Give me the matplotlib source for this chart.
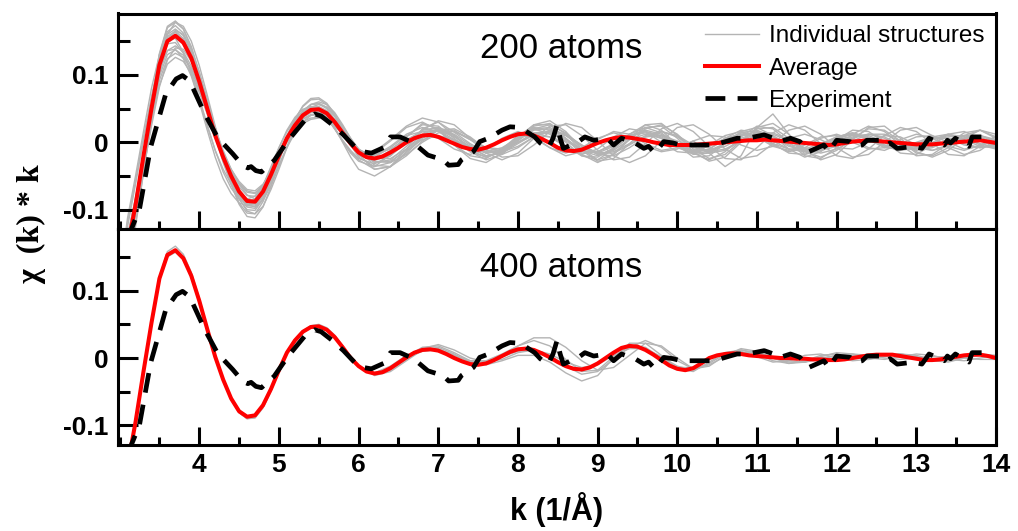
import matplotlib

matplotlib.use("Agg")
import matplotlib.pyplot as plt
import numpy as np
from matplotlib.ticker import FixedLocator, FuncFormatter, MultipleLocator

plt.rcParams["font.family"] = ["Liberation Sans", "DejaVu Sans"]
plt.rcParams["font.weight"] = "bold"

# ---- data ----
# k grid for the averaged curves (0.1 step) and for single structures
k_avg = np.round(np.arange(3.0, 14.001, 0.1), 1)
k_struct = np.round(np.r_[np.arange(3.0, 6.001, 0.1), np.arange(6.2, 14.001, 0.2)], 1)

avg_200 = [
    -0.250, -0.155, -0.093, -0.020, 0.050, 0.115, 0.150, 0.158, 0.148, 0.125,
    0.090, 0.050, 0.010, -0.022, -0.050, -0.073, -0.087, -0.088, -0.073, -0.048,
    -0.020, 0.006, 0.025, 0.040, 0.048, 0.049, 0.043, 0.030, 0.014, -0.002,
    -0.015, -0.022, -0.024, -0.021, -0.015, -0.008, 0.000, 0.006, 0.010, 0.011,
    0.008, 0.003, -0.002, -0.007, -0.010, -0.011, -0.008, -0.003, 0.003, 0.008,
    0.012, 0.013, 0.010, 0.005, -0.001, -0.008, -0.012, -0.013, -0.011, -0.006,
    -0.001, 0.003, 0.006, 0.008, 0.007, 0.005, 0.003, 0.000, -0.002, -0.004,
    -0.004, -0.004, -0.004, -0.003, -0.002, -0.001, 0.000, 0.001, 0.002, 0.003,
    0.003, 0.004, 0.003, 0.002, 0.001, 0.000, -0.001, -0.002, -0.003, -0.004,
    -0.003, -0.001, 0.001, 0.002, 0.003, 0.002, 0.001, 0.000, -0.001, -0.002,
    -0.003, -0.003, -0.003, -0.002, -0.001, 0.000, 0.001, 0.002, 0.003, 0.001,
    -0.001,
]
avg_400 = [
    -0.250, -0.160, -0.095, -0.020, 0.052, 0.118, 0.153, 0.160, 0.148, 0.122,
    0.085, 0.043, 0.002, -0.032, -0.060, -0.079, -0.087, -0.085, -0.070, -0.046,
    -0.018, 0.008, 0.026, 0.039, 0.046, 0.047, 0.042, 0.031, 0.016, 0.000,
    -0.012, -0.020, -0.023, -0.021, -0.015, -0.007, 0.001, 0.008, 0.012, 0.013,
    0.011, 0.006, 0.000, -0.005, -0.009, -0.010, -0.008, -0.003, 0.003, 0.009,
    0.013, 0.014, 0.012, 0.007, 0.001, -0.006, -0.012, -0.016, -0.017, -0.014,
    -0.008, 0.000, 0.008, 0.015, 0.018, 0.017, 0.012, 0.005, -0.003, -0.011,
    -0.016, -0.018, -0.015, -0.008, 0.000, 0.004, 0.006, 0.007, 0.006, 0.004,
    0.003, 0.002, 0.001, 0.000, 0.000, -0.001, -0.001, -0.002, -0.002, -0.003,
    -0.003, -0.002, 0.000, 0.002, 0.004, 0.005, 0.005, 0.005, 0.003, 0.001,
    -0.001, -0.003, -0.003, -0.002, 0.000, 0.002, 0.004, 0.005, 0.005, 0.003,
    0.000,
]

exp_k = [
    3.05, 3.15, 3.25, 3.39, 3.58, 3.71, 3.79, 3.88, 4.07, 4.23,
    4.42, 4.55, 4.61, 4.65, 4.71, 4.78, 4.94, 5.11, 5.32, 5.45,
    5.53, 5.66, 5.81, 5.97, 6.06, 6.16, 6.33, 6.40, 6.52, 6.69,
    6.77, 6.87, 7.06, 7.13, 7.25, 7.29, 7.44, 7.52, 7.63, 7.80,
    7.90, 8.03, 8.21, 8.28, 8.38, 8.44, 8.49, 8.53, 8.57, 8.76,
    8.84, 8.95, 9.12, 9.20, 9.30, 9.47, 9.58, 9.64, 9.72, 9.83,
    9.95, 10.04, 10.23, 10.46, 10.66, 10.75, 10.88, 11.09, 11.21, 11.29,
    11.42, 11.54, 11.65, 11.84, 11.90, 12.00, 12.17, 12.24, 12.32, 12.38,
    12.57, 12.63, 12.67, 12.76, 12.97, 13.07, 13.16, 13.35, 13.39, 13.43,
    13.49, 13.66, 13.70, 13.83, 13.86,
]
exp_chi = [
    -0.190, -0.128, -0.099, -0.007, 0.072, 0.094, 0.099, 0.091, 0.042, 0.007,
    -0.017, -0.035, -0.038, -0.036, -0.042, -0.044, -0.027, 0.002, 0.032, 0.042,
    0.039, 0.027, 0.011, -0.009, -0.014, -0.016, -0.007, 0.008, 0.008, -0.001,
    -0.009, -0.019, -0.026, -0.034, -0.033, -0.026, -0.014, 0.001, 0.006, 0.018,
    0.023, 0.022, 0.008, -0.001, -0.009, 0.006, 0.026, 0.006, -0.009, 0.001,
    0.008, 0.003, 0.006, -0.004, 0.006, -0.001, -0.009, -0.006, -0.016, 0.001,
    -0.001, -0.004, -0.004, -0.004, 0.003, 0.006, 0.006, 0.011, 0.006, 0.001,
    0.006, 0.001, -0.014, -0.004, -0.014, 0.003, 0.001, -0.006, -0.004, 0.003,
    0.003, -0.004, -0.001, -0.009, -0.006, -0.009, 0.006, -0.004, 0.003, -0.001,
    0.006, -0.006, 0.008, 0.008, 0.004,
]

# individual structures, 200 atoms
s200_01 = [-0.270, -0.170, -0.100, -0.018, 0.060, 0.132, 0.172, 0.180, 0.168, 0.140,
           0.100, 0.054, 0.008, -0.030, -0.062, -0.090, -0.105, -0.106, -0.088, -0.058,
           -0.022, 0.010, 0.034, 0.053, 0.063, 0.064, 0.056, 0.040, 0.018, -0.004, -0.022,
           -0.036, -0.030, -0.010, 0.020, 0.030, 0.015, -0.002, -0.015, -0.012, 0.004,
           0.018, 0.020, 0.006, -0.012, -0.020, -0.010, 0.008, 0.016, 0.010, -0.004,
           -0.014, -0.010, 0.004, 0.014, 0.010, -0.004, -0.014, -0.008, 0.006, 0.012,
           0.004, -0.008, -0.012, -0.002, 0.008, 0.010, 0.000, -0.010, -0.006, 0.004]
s200_02 = [-0.225, -0.140, -0.082, -0.020, 0.038, 0.092, 0.124, 0.132, 0.126, 0.108,
           0.078, 0.045, 0.012, -0.016, -0.040, -0.060, -0.072, -0.075, -0.064, -0.044,
           -0.020, 0.003, 0.020, 0.031, 0.036, 0.037, 0.033, 0.024, 0.012, -0.001, -0.012,
           -0.018, -0.010, 0.004, 0.016, 0.018, 0.008, -0.006, -0.014, -0.008, 0.006,
           0.014, 0.008, -0.006, -0.016, -0.014, -0.002, 0.010, 0.014, 0.006, -0.006,
           -0.012, -0.006, 0.006, 0.012, 0.008, -0.002, -0.010, -0.010, -0.002, 0.008,
           0.012, 0.006, -0.004, -0.010, -0.006, 0.004, 0.010, 0.008, -0.002, -0.008]
s200_03 = [-0.270, -0.185, -0.120, -0.045, 0.030, 0.100, 0.148, 0.166, 0.160, 0.138,
           0.104, 0.064, 0.022, -0.016, -0.048, -0.075, -0.092, -0.096, -0.086, -0.064,
           -0.036, -0.006, 0.020, 0.040, 0.052, 0.056, 0.052, 0.040, 0.024, 0.006, -0.010,
           -0.030, -0.028, -0.012, 0.004, 0.010, 0.004, -0.008, -0.016, -0.010, 0.006,
           0.020, 0.022, 0.010, -0.006, -0.016, -0.014, -0.002, 0.008, 0.010, 0.002,
           -0.008, -0.012, -0.006, 0.006, 0.014, 0.012, 0.002, -0.010, -0.016, -0.010,
           0.002, 0.012, 0.012, 0.002, -0.008, -0.012, -0.004, 0.006, 0.010, 0.004]
s200_04 = [-0.215, -0.125, -0.062, 0.005, 0.068, 0.120, 0.146, 0.148, 0.132, 0.104,
           0.066, 0.026, -0.012, -0.044, -0.068, -0.084, -0.090, -0.084, -0.064, -0.036,
           -0.008, 0.016, 0.034, 0.045, 0.049, 0.046, 0.036, 0.020, 0.003, -0.012, -0.024,
           -0.032, -0.020, 0.002, 0.018, 0.022, 0.010, -0.008, -0.020, -0.016, -0.002,
           0.012, 0.014, 0.002, -0.012, -0.016, -0.006, 0.010, 0.018, 0.012, -0.002,
           -0.012, -0.012, -0.002, 0.010, 0.016, 0.010, -0.004, -0.014, -0.012, -0.002,
           0.008, 0.012, 0.006, -0.004, -0.010, -0.006, 0.004, 0.010, 0.008, -0.002]
s200_05 = [-0.265, -0.165, -0.098, -0.020, 0.056, 0.126, 0.164, 0.173, 0.162, 0.137,
           0.098, 0.054, 0.010, -0.026, -0.058, -0.084, -0.100, -0.101, -0.084, -0.055,
           -0.022, 0.008, 0.030, 0.047, 0.056, 0.057, 0.050, 0.034, 0.015, -0.004, -0.020,
           -0.026, -0.012, 0.008, 0.028, 0.020, -0.004, -0.020, -0.024, -0.010, 0.010,
           0.020, 0.012, -0.006, -0.018, -0.010, 0.008, 0.020, 0.016, 0.000, -0.014,
           -0.016, -0.004, 0.010, 0.016, 0.008, -0.006, -0.012, -0.004, 0.008, 0.010,
           0.000, -0.010, -0.008, 0.004, 0.012, 0.006, -0.006, -0.012, -0.004, 0.008]
s200_06 = [-0.240, -0.160, -0.105, -0.040, 0.024, 0.082, 0.122, 0.140, 0.138, 0.120,
           0.092, 0.056, 0.020, -0.012, -0.040, -0.062, -0.078, -0.084, -0.078, -0.060,
           -0.034, -0.008, 0.014, 0.030, 0.040, 0.044, 0.042, 0.034, 0.020, 0.004, -0.010,
           -0.028, -0.030, -0.018, 0.000, 0.014, 0.016, 0.006, -0.008, -0.014, -0.006,
           0.008, 0.016, 0.010, -0.004, -0.016, -0.016, -0.004, 0.010, 0.016, 0.008,
           -0.006, -0.016, -0.012, 0.002, 0.014, 0.014, 0.004, -0.008, -0.012, -0.006,
           0.006, 0.012, 0.008, -0.004, -0.012, -0.008, 0.002, 0.010, 0.010, 0.000]
s200_07 = [-0.255, -0.160, -0.096, -0.022, 0.050, 0.118, 0.155, 0.163, 0.152, 0.128,
           0.092, 0.051, 0.010, -0.024, -0.054, -0.079, -0.094, -0.095, -0.080, -0.053,
           -0.022, 0.006, 0.027, 0.043, 0.052, 0.053, 0.047, 0.033, 0.016, -0.002, -0.016,
           -0.022, -0.008, 0.010, 0.016, 0.006, -0.010, -0.018, -0.010, 0.006, 0.016,
           0.008, -0.008, -0.020, -0.014, 0.004, 0.016, 0.012, -0.002, -0.012, -0.008,
           0.002, -0.016, -0.036, -0.020, 0.022, 0.042, 0.012, -0.018, -0.012, 0.006,
           0.012, 0.004, -0.008, -0.010, 0.000, 0.008, 0.006, -0.004, -0.008, -0.002]
s200_08 = [-0.205, -0.118, -0.058, 0.006, 0.064, 0.112, 0.136, 0.138, 0.124, 0.098,
           0.062, 0.024, -0.012, -0.040, -0.062, -0.078, -0.084, -0.080, -0.064, -0.040,
           -0.014, 0.010, 0.028, 0.040, 0.046, 0.045, 0.036, 0.020, 0.002, -0.014, -0.026,
           -0.040, -0.036, -0.014, 0.008, 0.018, 0.012, -0.004, -0.016, -0.014, 0.000,
           0.014, 0.016, 0.004, -0.010, -0.014, -0.004, 0.010, 0.016, 0.008, -0.006,
           -0.016, -0.014, -0.002, 0.010, 0.012, 0.002, -0.010, -0.014, -0.004, 0.008,
           0.014, 0.008, -0.004, -0.012, -0.008, 0.004, 0.012, 0.008, -0.004, -0.010]
s200_09 = [-0.280, -0.180, -0.108, -0.026, 0.056, 0.130, 0.170, 0.178, 0.168, 0.142,
           0.104, 0.060, 0.014, -0.026, -0.062, -0.092, -0.110, -0.112, -0.096, -0.066,
           -0.030, 0.006, 0.034, 0.054, 0.065, 0.066, 0.058, 0.042, 0.022, 0.000, -0.018,
           -0.040, -0.036, -0.016, 0.006, 0.018, 0.016, 0.004, -0.008, -0.010, 0.000,
           0.010, 0.008, -0.006, -0.020, -0.022, -0.008, 0.012, 0.022, 0.014, -0.004,
           -0.018, -0.016, -0.002, 0.014, 0.018, 0.008, -0.006, -0.012, -0.006, 0.006,
           0.012, 0.006, -0.006, -0.012, -0.004, 0.008, 0.012, 0.004, -0.006, -0.008]
s200_10 = [-0.245, -0.150, -0.088, -0.016, 0.052, 0.114, 0.148, 0.155, 0.145, 0.122,
           0.088, 0.049, 0.010, -0.022, -0.050, -0.072, -0.085, -0.086, -0.072, -0.048,
           -0.020, 0.005, 0.023, 0.037, 0.044, 0.045, 0.040, 0.028, 0.012, -0.004, -0.018,
           -0.020, -0.006, 0.012, 0.022, 0.016, 0.002, -0.010, -0.008, 0.004, 0.012,
           0.006, -0.008, -0.016, -0.008, 0.006, 0.014, 0.008, -0.006, -0.014, -0.010,
           0.002, 0.010, 0.008, -0.004, -0.012, -0.006, 0.006, 0.012, 0.004, -0.008,
           -0.010, 0.000, 0.010, 0.008, -0.004, -0.012, -0.006, 0.006, 0.010, 0.002]
s200_11 = [-0.215, -0.138, -0.084, -0.024, 0.032, 0.085, 0.116, 0.126, 0.120, 0.102,
           0.074, 0.042, 0.010, -0.016, -0.040, -0.058, -0.070, -0.072, -0.062, -0.044,
           -0.022, 0.000, 0.016, 0.028, 0.034, 0.036, 0.034, 0.026, 0.014, 0.002, -0.010,
           -0.024, -0.024, -0.010, 0.008, 0.020, 0.018, 0.004, -0.012, -0.018, -0.008,
           0.008, 0.018, 0.012, -0.004, -0.018, -0.020, -0.008, 0.008, 0.016, 0.010,
           -0.004, -0.014, -0.010, 0.002, 0.010, 0.008, -0.002, -0.010, -0.008, 0.002,
           0.010, 0.010, 0.000, -0.010, -0.010, 0.000, 0.008, 0.010, 0.004, -0.004]
s200_12 = [-0.260, -0.162, -0.097, -0.022, 0.052, 0.121, 0.160, 0.168, 0.158, 0.133,
           0.096, 0.054, 0.011, -0.024, -0.056, -0.080, -0.096, -0.098, -0.083, -0.057,
           -0.026, 0.004, 0.026, 0.042, 0.050, 0.050, 0.040, 0.022, 0.000, -0.022, -0.040,
           -0.050, -0.036, -0.010, 0.012, 0.020, 0.010, -0.008, -0.020, -0.016, 0.002,
           0.020, 0.026, 0.014, -0.006, -0.018, -0.012, 0.004, 0.012, 0.006, -0.008,
           -0.016, -0.010, 0.006, 0.018, 0.014, -0.002, -0.016, -0.018, -0.006, 0.008,
           0.014, 0.006, -0.006, -0.010, -0.002, 0.006, 0.006, -0.002, -0.008, -0.004]
s200_13 = [-0.250, -0.158, -0.095, -0.022, 0.049, 0.114, 0.150, 0.159, 0.150, 0.127,
           0.092, 0.052, 0.011, -0.022, -0.052, -0.076, -0.090, -0.091, -0.076, -0.050,
           -0.020, 0.008, 0.029, 0.046, 0.056, 0.058, 0.052, 0.038, 0.020, 0.002, -0.014,
           -0.030, -0.026, -0.006, 0.018, 0.032, 0.026, 0.006, -0.016, -0.026, -0.016,
           0.006, 0.024, 0.026, 0.010, -0.012, -0.026, -0.022, -0.002, 0.020, 0.028,
           0.016, -0.006, -0.024, -0.026, -0.008, 0.014, 0.026, 0.018, -0.002, -0.020,
           -0.024, -0.010, 0.010, 0.022, 0.016, -0.002, -0.018, -0.020, -0.006, 0.010]
s200_14 = [-0.230, -0.145, -0.086, -0.018, 0.046, 0.104, 0.136, 0.143, 0.134, 0.113,
           0.081, 0.045, 0.009, -0.020, -0.046, -0.066, -0.079, -0.080, -0.067, -0.045,
           -0.019, 0.005, 0.022, 0.035, 0.041, 0.042, 0.037, 0.026, 0.012, -0.002, -0.014,
           -0.016, 0.002, 0.022, 0.030, 0.018, -0.004, -0.024, -0.030, -0.016, 0.008,
           0.026, 0.026, 0.006, -0.018, -0.030, -0.018, 0.006, 0.026, 0.028, 0.010,
           -0.014, -0.028, -0.022, 0.000, 0.022, 0.028, 0.012, -0.012, -0.026, -0.018,
           0.004, 0.022, 0.024, 0.006, -0.014, -0.022, -0.012, 0.006, 0.018, 0.012]
s200_15 = [-0.285, -0.195, -0.125, -0.045, 0.036, 0.110, 0.160, 0.178, 0.172, 0.150,
           0.114, 0.070, 0.024, -0.018, -0.054, -0.084, -0.102, -0.106, -0.095, -0.070,
           -0.040, -0.008, 0.020, 0.042, 0.056, 0.060, 0.056, 0.044, 0.026, 0.006, -0.012,
           -0.034, -0.036, -0.020, 0.002, 0.018, 0.020, 0.008, -0.010, -0.022, -0.020,
           -0.004, 0.016, 0.028, 0.022, 0.002, -0.020, -0.030, -0.020, 0.002, 0.022,
           0.026, 0.012, -0.010, -0.024, -0.020, -0.002, 0.018, 0.024, 0.012, -0.008,
           -0.022, -0.018, 0.000, 0.018, 0.022, 0.010, -0.008, -0.018, -0.012, 0.004]
s200_16 = [-0.200, -0.112, -0.050, 0.016, 0.080, 0.130, 0.154, 0.154, 0.134, 0.102,
           0.060, 0.018, -0.022, -0.054, -0.076, -0.090, -0.094, -0.086, -0.066, -0.038,
           -0.008, 0.018, 0.037, 0.049, 0.053, 0.049, 0.037, 0.020, 0.001, -0.016, -0.028,
           -0.036, -0.018, 0.008, 0.026, 0.024, 0.006, -0.014, -0.026, -0.018, 0.004,
           0.024, 0.028, 0.012, -0.012, -0.028, -0.024, -0.002, 0.020, 0.026, 0.012,
           -0.010, -0.024, -0.018, 0.002, 0.020, 0.022, 0.006, -0.014, -0.022, -0.012,
           0.006, 0.020, 0.018, 0.002, -0.016, -0.020, -0.008, 0.010, 0.018, 0.008]
s200_17 = [-0.258, -0.163, -0.098, -0.022, 0.052, 0.120, 0.157, 0.165, 0.154, 0.130,
           0.094, 0.053, 0.011, -0.023, -0.053, -0.077, -0.092, -0.093, -0.078, -0.052,
           -0.022, 0.006, 0.027, 0.043, 0.051, 0.052, 0.046, 0.032, 0.015, -0.002, -0.016,
           -0.014, 0.004, 0.024, 0.036, 0.030, 0.010, -0.012, -0.022, -0.014, 0.006,
           0.026, 0.032, 0.016, -0.010, -0.026, -0.018, 0.004, 0.022, 0.024, 0.006,
           -0.016, -0.026, -0.014, 0.008, 0.024, 0.020, 0.000, -0.020, -0.024, -0.008,
           0.012, 0.024, 0.016, -0.004, -0.020, -0.018, -0.002, 0.014, 0.018, 0.006]
s200_18 = [-0.220, -0.140, -0.085, -0.020, 0.042, 0.098, 0.130, 0.137, 0.129, 0.109,
           0.078, 0.044, 0.010, -0.018, -0.043, -0.062, -0.074, -0.076, -0.064, -0.043,
           -0.018, 0.005, 0.022, 0.034, 0.040, 0.041, 0.037, 0.026, 0.012, -0.002, -0.014,
           -0.026, -0.020, 0.000, 0.016, 0.018, 0.004, -0.014, -0.022, -0.012, 0.008,
           0.022, 0.018, 0.000, -0.020, -0.026, -0.010, 0.012, 0.026, 0.018, -0.004,
           -0.022, -0.020, -0.002, 0.016, 0.022, 0.010, -0.010, -0.022, -0.014, 0.004,
           0.018, 0.016, 0.000, -0.016, -0.018, -0.004, 0.012, 0.016, 0.006, -0.008]

# individual structures, 400 atoms
s400_01 = [-0.255, -0.163, -0.097, -0.021, 0.053, 0.121, 0.158, 0.166, 0.154, 0.127,
           0.089, 0.045, 0.003, -0.032, -0.061, -0.081, -0.090, -0.089, -0.074, -0.049,
           -0.020, 0.007, 0.026, 0.040, 0.048, 0.050, 0.045, 0.034, 0.018, 0.001, -0.012,
           -0.024, -0.016, 0.002, 0.016, 0.018, 0.008, -0.004, -0.006, 0.004, 0.018,
           0.026, 0.018, -0.002, -0.020, -0.018, 0.002, 0.018, 0.016, 0.000, -0.014,
           -0.014, -0.002, 0.008, 0.012, 0.006, -0.004, -0.008, -0.004, 0.004, 0.006,
           0.002, -0.002, 0.002, 0.006, 0.004, -0.002, -0.004, 0.000, 0.004, 0.002]
s400_02 = [-0.245, -0.156, -0.092, -0.018, 0.051, 0.115, 0.150, 0.157, 0.146, 0.120,
           0.083, 0.042, 0.002, -0.031, -0.058, -0.077, -0.086, -0.084, -0.069, -0.045,
           -0.017, 0.008, 0.026, 0.038, 0.045, 0.046, 0.041, 0.030, 0.015, 0.000, -0.012,
           -0.022, -0.014, 0.000, 0.010, 0.012, 0.004, -0.004, -0.004, 0.006, 0.018,
           0.030, 0.030, 0.016, -0.004, -0.018, -0.014, 0.004, 0.022, 0.018, 0.000,
           -0.016, -0.012, 0.004, 0.014, 0.010, 0.000, -0.008, -0.006, 0.002, 0.008,
           0.006, 0.000, -0.002, 0.002, 0.006, 0.004, -0.002, -0.004, 0.000, 0.004]
s400_03 = [-0.252, -0.160, -0.094, -0.019, 0.054, 0.119, 0.154, 0.161, 0.149, 0.123,
           0.086, 0.044, 0.003, -0.032, -0.061, -0.081, -0.090, -0.088, -0.073, -0.048,
           -0.019, 0.008, 0.027, 0.040, 0.047, 0.048, 0.043, 0.032, 0.017, 0.001, -0.011,
           -0.026, -0.020, -0.004, 0.012, 0.016, 0.006, -0.006, -0.010, -0.004, 0.004,
           0.004, -0.006, -0.022, -0.034, -0.026, 0.000, 0.022, 0.022, 0.004, -0.016,
           -0.020, -0.006, 0.008, 0.010, 0.002, -0.006, -0.004, 0.004, 0.006, 0.000,
           -0.004, -0.002, 0.004, 0.006, 0.002, -0.004, -0.004, 0.002, 0.006, 0.002]
s400_04 = [-0.248, -0.158, -0.094, -0.021, 0.050, 0.116, 0.152, 0.160, 0.148, 0.122,
           0.085, 0.043, 0.001, -0.034, -0.062, -0.081, -0.089, -0.087, -0.072, -0.047,
           -0.019, 0.007, 0.026, 0.039, 0.046, 0.047, 0.042, 0.031, 0.016, 0.000, -0.013,
           -0.024, -0.018, -0.002, 0.014, 0.020, 0.012, 0.000, -0.006, -0.002, 0.008,
           0.012, 0.004, -0.012, -0.024, -0.020, -0.002, 0.016, 0.026, 0.016, -0.004,
           -0.016, -0.010, 0.002, 0.008, 0.008, 0.002, -0.004, -0.006, -0.002, 0.004,
           0.006, 0.004, 0.000, -0.002, 0.000, 0.002, 0.002, 0.000, -0.002, -0.002]
s400_05 = [-0.250, -0.161, -0.096, -0.022, 0.051, 0.117, 0.153, 0.160, 0.148, 0.121,
           0.084, 0.042, 0.001, -0.033, -0.061, -0.080, -0.088, -0.086, -0.071, -0.047,
           -0.019, 0.007, 0.025, 0.038, 0.045, 0.046, 0.041, 0.030, 0.015, -0.001, -0.013,
           -0.022, -0.012, 0.004, 0.014, 0.014, 0.004, -0.006, -0.006, 0.002, 0.010,
           0.012, 0.006, -0.006, -0.014, -0.010, 0.004, 0.014, 0.014, 0.002, -0.012,
           -0.018, -0.008, 0.006, 0.012, 0.008, 0.000, -0.006, -0.006, 0.000, 0.004,
           0.004, 0.002, 0.004, 0.006, 0.002, -0.004, -0.006, 0.000, 0.006, 0.004]

structs_200 = [s200_01, s200_02, s200_03, s200_04, s200_05, s200_06,
               s200_07, s200_08, s200_09, s200_10, s200_11, s200_12,
               s200_13, s200_14, s200_15, s200_16, s200_17, s200_18]
structs_400 = [s400_01, s400_02, s400_03, s400_04, s400_05]

x_ticks = [4, 5, 6, 7, 8, 9, 10, 11, 12, 13, 14]
y_ticks = [-0.1, 0.0, 0.1]

GREY = "#b4b4b4"
W, H = 1018, 531

fig = plt.figure(figsize=(W / 100, H / 100), dpi=100)
ax1 = fig.add_axes([118 / W, 1 - 229.3 / H, 878 / W, 215.8 / H])
ax2 = fig.add_axes([118 / W, 1 - 445 / H, 878 / W, 215.7 / H])


def draw_panel(ax, structs, avg, title, title_y):
    for i, s in enumerate(structs):
        ax.plot(k_struct, s, color=GREY, lw=1.0, zorder=1,
                label="Individual structures" if i == 0 else None)
    ax.plot(k_avg, avg, color="red", lw=2.9, zorder=2, label="Average")
    ax.plot(exp_k, exp_chi, color="black", lw=3.4, dashes=(4.2, 2.6),
            zorder=3, label="Experiment")
    ax.text(0.5046, title_y, title, transform=ax.transAxes, ha="center",
            va="baseline", fontsize=25, fontweight="normal")

    ax.set_xlim(2.98, 14.0)
    ax.set_ylim(-0.129, 0.191)
    ax.xaxis.set_major_locator(FixedLocator(x_ticks))
    ax.xaxis.set_minor_locator(MultipleLocator(0.5))
    ax.yaxis.set_major_locator(FixedLocator(y_ticks))
    ax.yaxis.set_minor_locator(MultipleLocator(0.05))
    ax.yaxis.set_major_formatter(
        FuncFormatter(lambda v, p: "0" if abs(v) < 1e-9 else f"{v:.1f}"))
    ax.tick_params(which="both", direction="in", top=False, right=False,
                   width=2.2, labelsize=19)
    ax.tick_params(axis="y", which="major", length=14.5, pad=7)
    ax.tick_params(axis="y", which="minor", length=8.5)
    ax.tick_params(axis="x", which="major", length=13, pad=6)
    ax.tick_params(axis="x", which="minor", length=6)
    for sp in ax.spines.values():
        sp.set_linewidth(2.2)


draw_panel(ax1, structs_200, avg_200, "200 atoms", 0.795)
draw_panel(ax2, structs_400, avg_400, "400 atoms", 0.780)
ax1.tick_params(axis="x", labelbottom=False)

ax1.legend(loc="upper left", bbox_to_anchor=(0.6686, 0.945), frameon=False,
           prop={"size": 17.5, "weight": "normal"}, handlelength=2.2,
           handletextpad=0.45, labelspacing=0.42, borderaxespad=0, borderpad=0)

fig.text(557 / W, 1 - 510 / H, "k (1/Å)", ha="center", va="center",
         fontsize=22, fontweight="bold")
fig.text(32 / W, 1 - 224 / H, "χ  (k) * k", ha="center", va="center",
         rotation=90, fontsize=23, fontweight="bold",
         family=["Liberation Serif", "DejaVu Serif"])

fig.savefig("out.png", dpi=100)
